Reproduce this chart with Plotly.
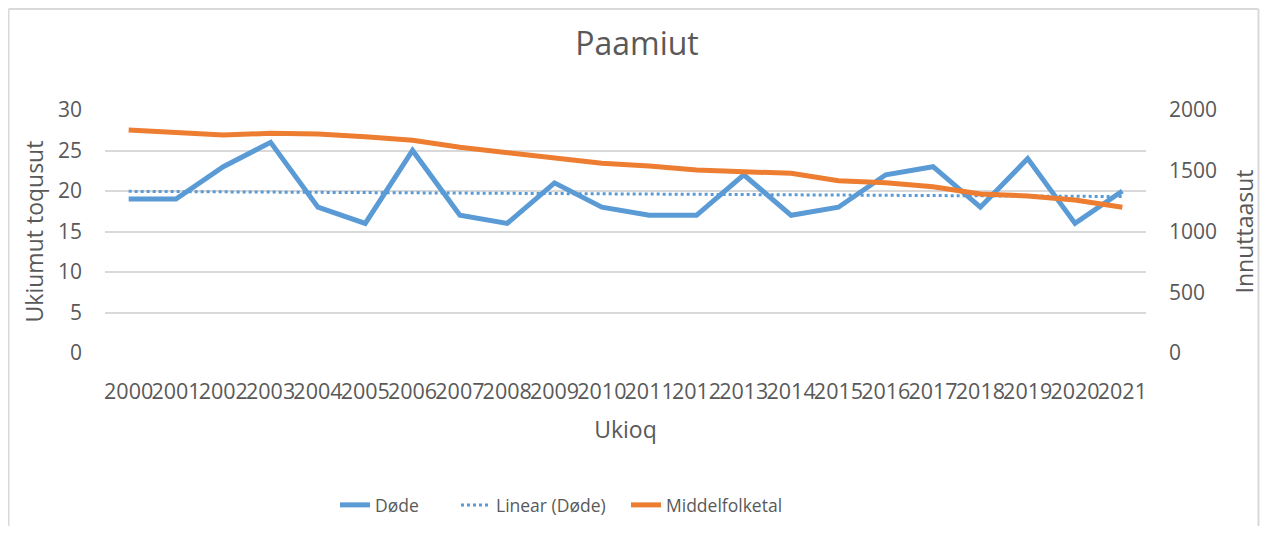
import numpy as np
import plotly.graph_objects as go

years = [str(y) for y in range(2000, 2022)]
dode = [19, 19, 23, 26, 18, 16, 25, 17, 16, 21, 18, 17, 17, 22, 17, 18, 22, 23, 18, 24, 16, 20]
middelfolketal = [1835, 1815, 1794, 1808, 1802, 1780, 1751, 1693, 1649, 1602, 1561, 1539,
                  1506, 1492, 1479, 1418, 1402, 1369, 1309, 1292, 1259, 1199]

# Linear trendline of Døde (as Excel's "Linear (Døde)")
xi = np.arange(len(dode))
slope, intercept = np.polyfit(xi, dode, 1)
trend = list(slope * xi + intercept)

BLUE = "#5B9BD5"
ORANGE = "#ED7D31"
TXT = "#595959"
GRID = "#D9D9D9"
FONT = "Open Sans"

# page has an 8px body margin; figure is placed at (8, 8)
W, H = 1252, 518
L, T, PW, PH = 97, 102, 1041, 243
R = W - L - PW
B = H - T - PH
PX0 = 105  # page x of plot left edge
PY0 = 353  # page y of plot bottom edge

fig = go.Figure()
fig.add_trace(go.Scatter(x=years, y=dode, name="Døde", mode="lines",
                         line=dict(color=BLUE, width=5), legend="legend"))
fig.add_trace(go.Scatter(x=years, y=trend, name="Linear (Døde)", mode="lines",
                         line=dict(color=BLUE, width=3, dash="dot"), legend="legend2"))
fig.add_trace(go.Scatter(x=years, y=middelfolketal, name="Middelfolketal", mode="lines",
                         line=dict(color=ORANGE, width=5), yaxis="y2", legend="legend3"))


def leg(page_x):
    return dict(orientation="h", x=(page_x - PX0) / PW, xanchor="left",
                y=-(505 - PY0) / PH, yanchor="middle", bgcolor="rgba(0,0,0,0)",
                font=dict(size=17.5, color=TXT, family=FONT), itemwidth=30)


fig.update_layout(
    width=W, height=H,
    margin=dict(l=L, r=R, t=T, b=B, autoexpand=False),
    paper_bgcolor="white", plot_bgcolor="white",
    font=dict(family=FONT, color=TXT, size=18),
    title=dict(text="Paamiut", x=(637 - 8) / W, xanchor="center", y=1 - 36 / H, yanchor="middle",
               font=dict(size=32, color=TXT, family=FONT)),
    xaxis=dict(type="category", range=[-0.5, 21.5], tickangle=0, showgrid=False,
               showline=False, ticks="", tickfont=dict(size=21.5, color=TXT),
               ticklabelstandoff=23,
               title=dict(text="Ukioq", font=dict(size=23, color=TXT), standoff=18)),
    yaxis=dict(range=[0, 30], dtick=5, showgrid=True, gridcolor=GRID, gridwidth=1.5,
               zeroline=False, showline=False, ticks="", tickfont=dict(size=21, color=TXT),
               ticklabelstandoff=22,
               title=dict(text="Ukiumut toqusut", font=dict(size=23, color=TXT), standoff=7)),
    yaxis2=dict(range=[0, 2000], dtick=500, overlaying="y", side="right", showgrid=False,
                zeroline=False, showline=False, ticks="", tickfont=dict(size=21, color=TXT),
                ticklabelstandoff=22,
                title=dict(text="Innuttaasut", font=dict(size=23, color=TXT), standoff=22)),
    legend=leg(335),
    legend2=leg(456),
    legend3=leg(626),
    showlegend=True,
)

# light outer chart border (top, left, right)
for x0, y0, x1, y1 in [(-L + 0.5, PH + T - 1, W - L - 1.5, PH + T - 1),
                       (-L + 0.5, -B, -L + 0.5, PH + T - 1),
                       (W - L - 1.5, -B, W - L - 1.5, PH + T - 1)]:
    fig.add_shape(type="line", xref="paper", yref="paper",
                  x0=x0 / PW, x1=x1 / PW, y0=y0 / PH, y1=y1 / PH,
                  line=dict(color="#D9D9D9", width=2), layer="below")

fig.write_html("out.html")
